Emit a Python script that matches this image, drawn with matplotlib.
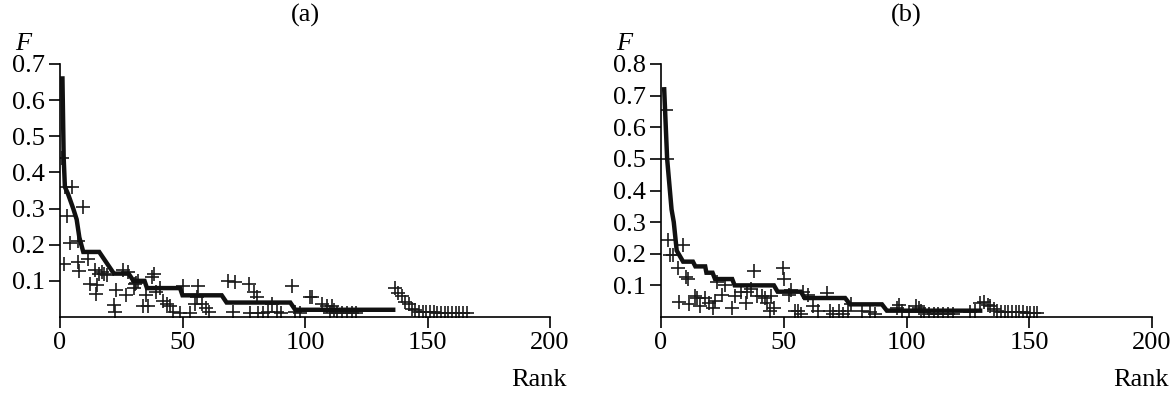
import matplotlib
matplotlib.use("Agg")
import matplotlib.pyplot as plt

plt.rcParams['font.family'] = ['Liberation Serif', 'DejaVu Serif']

# Panel (a): stepped curve and scattered points.
a_line_rank = [1, 1.5, 2, 3.3, 5.4, 6.8, 7.9, 9.5, 16, 18, 20, 22, 28, 30, 34.5, 35.5, 49, 50, 66, 68, 94, 96, 136]
a_line_f = [0.66, 0.44, 0.36, 0.34, 0.30, 0.27, 0.22, 0.18, 0.18, 0.16, 0.14, 0.12, 0.12, 0.10, 0.10, 0.08, 0.08, 0.06, 0.06, 0.04, 0.04, 0.02, 0.02]

a_rank = [1, 2, 4.8, 9.5, 2.7, 4.1, 7.3, 1.8, 7.2, 7.8, 11.6, 14.3, 12.2, 15, 14.6, 16, 17, 18, 19,
          22.4, 22, 23, 25.8, 27.8, 27, 30, 31, 30.6, 32, 34, 35, 36, 37.4, 38.5, 39, 40.8, 42, 43.5,
          45, 46, 49, 50, 53, 55, 56.5, 56, 58, 59.5, 61, 68.7, 71.5, 70.7, 77, 79, 80.3, 77.5, 81,
          83, 85, 86.5, 88.5, 90, 94.5, 96, 98, 102, 103, 106.8, 109, 111, 112, 110, 113, 115, 117,
          119, 121, 136.7, 138, 139.5, 141, 142.5, 143.5, 145, 146.5, 148, 149.5, 151, 152.5, 154,
          155.5, 157, 158.5, 160, 161.5, 163, 164.5, 166]
a_f = [0.44, 0.36, 0.36, 0.305, 0.28, 0.205, 0.21, 0.146, 0.153, 0.127, 0.16, 0.13, 0.09, 0.089, 0.063, 0.12, 0.125, 0.12, 0.115,
       0.015, 0.033, 0.075, 0.13, 0.125, 0.06, 0.079, 0.095, 0.09, 0.10, 0.03, 0.06, 0.03, 0.11, 0.12, 0.07, 0.08, 0.045, 0.035,
       0.03, 0.015, 0.01, 0.085, 0.01, 0.035, 0.085, 0.055, 0.035, 0.025, 0.015, 0.10, 0.097, 0.015, 0.09, 0.07, 0.055, 0.01, 0.01,
       0.01, 0.015, 0.035, 0.015, 0.01, 0.085, 0.015, 0.01, 0.056, 0.056, 0.035, 0.03, 0.03, 0.02, 0.01, 0.01, 0.01, 0.01,
       0.01, 0.01, 0.079, 0.067, 0.058, 0.042, 0.035, 0.022, 0.018, 0.015, 0.015, 0.014, 0.013, 0.013, 0.012,
       0.012, 0.012, 0.011, 0.011, 0.011, 0.01, 0.01, 0.01]

# Panel (b).
b_line_rank = [1.3, 2.5, 4.3, 5.2, 6.4, 9, 13, 14, 18, 18.5, 21, 22, 29, 30, 46, 47.5, 57, 58.5, 75, 77, 90, 92, 130]
b_line_f = [0.72, 0.50, 0.34, 0.30, 0.21, 0.175, 0.175, 0.16, 0.16, 0.14, 0.14, 0.12, 0.12, 0.10, 0.10, 0.08, 0.08, 0.06, 0.06, 0.04, 0.04, 0.02, 0.02]

b_rank = [2, 2.5, 3, 3.6, 5, 9, 7, 10, 11, 7.3, 11.5, 14, 16, 14.5, 18, 19.5, 21, 22, 23, 25, 26, 29, 30,
          32.6, 34.5, 35, 36.5, 38, 39, 41, 42.5, 43, 45, 44.5, 46, 49.8, 50.3, 52, 53, 54.5, 56, 57, 58,
          60, 62, 64, 67.5, 69, 70, 72.5, 74, 76, 77.5, 82, 85, 87, 96, 97, 98, 101, 104, 105, 106, 107,
          109, 111, 113, 115, 117, 119, 126, 128, 130, 131.5, 133, 134, 135.5, 137, 138.5, 140, 141.5,
          143, 144.5, 146, 147.5, 149, 150.5, 152, 153]
b_f = [0.655, 0.50, 0.244, 0.196, 0.196, 0.228, 0.154, 0.125, 0.12, 0.048, 0.04, 0.065, 0.035, 0.06, 0.06, 0.045, 0.03, 0.05, 0.11, 0.07, 0.10, 0.03, 0.065,
       0.08, 0.045, 0.08, 0.09, 0.145, 0.065, 0.065, 0.06, 0.045, 0.065, 0.02, 0.03, 0.154, 0.12, 0.07, 0.085, 0.02, 0.02, 0.01, 0.08,
       0.07, 0.035, 0.02, 0.075, 0.02, 0.01, 0.02, 0.01, 0.02, 0.04, 0.02, 0.015, 0.01, 0.03, 0.038, 0.02, 0.015, 0.035, 0.03, 0.02, 0.015,
       0.01, 0.01, 0.01, 0.01, 0.01, 0.01, 0.015, 0.02, 0.043, 0.048, 0.038, 0.035, 0.025, 0.018, 0.017, 0.016, 0.016,
       0.015, 0.015, 0.015, 0.015, 0.014, 0.014, 0.014, 0.014]

x_ticks = [0, 50, 100, 150, 200]

fig = plt.figure(figsize=(11.75, 3.94), dpi=100)
FS = 19

panels = [
    ("(a)", [60 / 1175, 77 / 394, 490 / 1175, 253 / 394], a_line_rank, a_line_f, a_rank, a_f, 0.7),
    ("(b)", [661 / 1175, 77 / 394, 491 / 1175, 253 / 394], b_line_rank, b_line_f, b_rank, b_f, 0.8),
]

for title, rect, lr, lf, pr, pf, ymax in panels:
    ax = fig.add_axes(rect)
    ax.plot(pr, pf, linestyle='none', marker='+', markersize=10, markeredgewidth=1.2, color='#1a1a1a')
    ax.plot(lr, lf, color='#111111', linewidth=3.2, solid_joinstyle='miter')
    ax.set_xlim(0, 200)
    ax.set_ylim(0, ymax)
    ax.set_xticks(x_ticks)
    yt = [round(0.1 * i, 1) for i in range(1, int(round(ymax * 10)) + 1)]
    ax.set_yticks(yt)
    ax.set_yticklabels([f"{v:.1f}" for v in yt])
    for s in ['top', 'right']:
        ax.spines[s].set_visible(False)
    for s in ['left', 'bottom']:
        ax.spines[s].set_linewidth(1.2)
    ax.tick_params(direction='out', length=8, width=1.2, labelsize=FS, pad=3)
    ax.tick_params(axis='x', pad=3)
    # labels placed in figure coordinates
    x0 = rect[0] * 1175
    x1 = (rect[0] + rect[2]) * 1175
    fig.text((x0 + x1) / 2 / 1175, 1 - 15 / 394, title, ha='center', va='center', fontsize=FS)
    fig.text((x0 - 45) / 1175, 1 - 44 / 394, "F", ha='left', va='center', fontsize=FS, style='italic')
    fig.text((x1 + 17) / 1175, 1 - 380 / 394, "Rank", ha='right', va='center', fontsize=FS)

fig.savefig("out.png", dpi=100)
